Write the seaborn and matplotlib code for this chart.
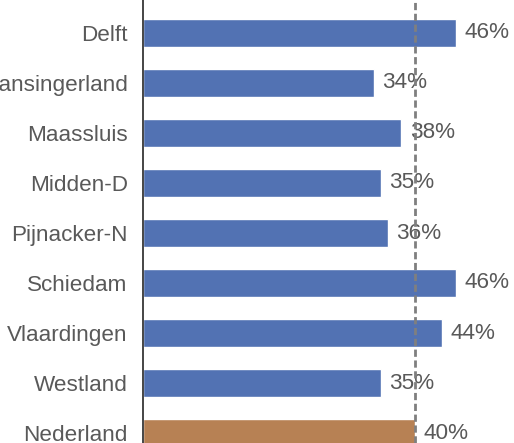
import matplotlib
matplotlib.use("Agg")
import matplotlib.pyplot as plt
import seaborn as sns
import pandas as pd

categories = ["Delft", "Lansingerland", "Maassluis", "Midden-D", "Pijnacker-N",
              "Schiedam", "Vlaardingen", "Westland", "Nederland"]
values = [46, 34, 38, 35, 36, 46, 44, 35, 40]
groups = ["regio"] * 8 + ["nl"]
reference = 40
palette = {"regio": "#5272B3", "nl": "#B78154"}

sns.set_theme(style="white")
plt.rcParams["font.family"] = ["Liberation Sans", "DejaVu Sans"]

df = pd.DataFrame({"cat": categories, "val": values, "grp": groups})

fig = plt.figure(figsize=(5.14, 4.43), dpi=100)
ax = fig.add_axes([143 / 514, 0, (514 - 143) / 514, 1])
sns.barplot(data=df, y="cat", x="val", hue="grp", palette=palette, dodge=False,
            width=0.55, saturation=1, legend=False, ax=ax, orient="h")

ax.set_xlim(0, 371 / 6.8)
ax.set_ylim(8.2, -0.66)
ax.axvline(reference, color="#7F7F7F", lw=2.0, dashes=(2.6, 1.3), zorder=5)

for i, v in enumerate(values):
    ax.annotate(f"{v}%", xy=(v, i), xytext=(6, 0), textcoords="offset points",
                va="center", ha="left", fontsize=16.2, color="#595959", zorder=4)

ax.set_xlabel("")
ax.set_ylabel("")
ax.set_xticks([])
ax.tick_params(axis="y", length=0, pad=11, labelsize=16.2, labelcolor="#595959")
for s in ["top", "right", "bottom"]:
    ax.spines[s].set_visible(False)
ax.spines["left"].set_color("#262626")
ax.spines["left"].set_linewidth(1.2)

fig.savefig("out.png", dpi=100)
